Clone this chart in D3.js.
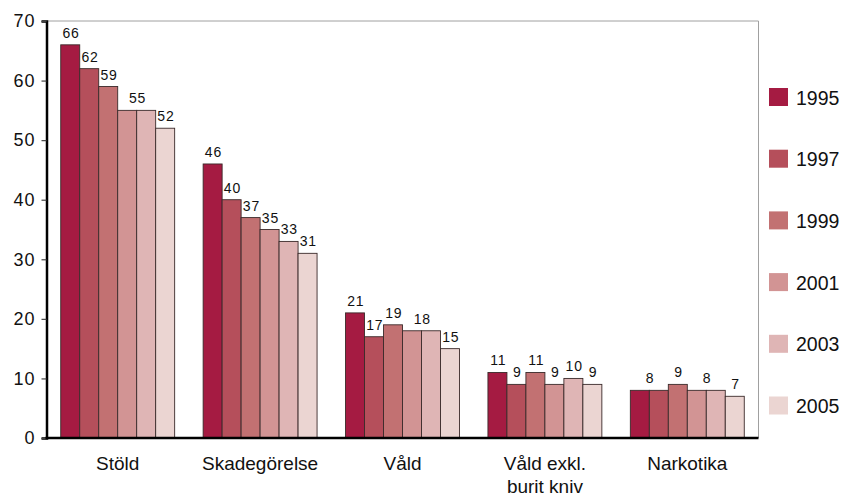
<!DOCTYPE html>
<html>
<head>
<meta charset="utf-8">
<script src="https://cdn.jsdelivr.net/npm/d3@7"></script>
<style>
  body { margin: 0; background: #fff; }
  svg { display: block; font-family: "Liberation Sans", Arial, Helvetica, sans-serif; }
</style>
</head>
<body>
<svg id="chart" width="845" height="498"></svg>
<script>
const categories = ["Stöld", "Skadegörelse", "Våld", "Våld exkl.\nburit kniv", "Narkotika"];
const years = ["1995", "1997", "1999", "2001", "2003", "2005"];
const v1995 = [66, 46, 21, 11, 8];
const v1997 = [62, 40, 17, 9, 8];
const v1999 = [59, 37, 19, 11, 9];
const v2001 = [55, 35, 18, 9, 8];
const v2003 = [55, 33, 18, 10, 8];
const v2005 = [52, 31, 15, 9, 7];
const yTicks = [0, 10, 20, 30, 40, 50, 60, 70];
const colors = ["#A51B42", "#B54F5B", "#C27172", "#D29494", "#DFB5B5", "#EBD5D2"];

const series = [v1995, v1997, v1999, v2001, v2003, v2005];

const svg = d3.select("#chart");
const mLeft = 46.5, mRight = 758.5, mTop = 21, mBottom = 438;

const x0 = d3.scaleBand().domain(categories).range([mLeft, mRight]).paddingInner(0.2).paddingOuter(0.1);
const x1 = d3.scaleBand().domain(years).range([0, x0.bandwidth()]);
const y = d3.scaleLinear().domain([0, 70]).range([mBottom, mTop]);
const color = d3.scaleOrdinal().domain(years).range(colors);

// top and right frame
svg.append("line").attr("x1", mLeft).attr("x2", mRight).attr("y1", mTop).attr("y2", mTop)
  .attr("stroke", "#a0a0a0").attr("stroke-width", 1);
svg.append("line").attr("x1", mRight).attr("x2", mRight).attr("y1", mTop).attr("y2", mBottom)
  .attr("stroke", "#a0a0a0").attr("stroke-width", 1);

// bars
categories.forEach((c, ci) => {
  const g = svg.append("g").attr("transform", `translate(${x0(c)},0)`);
  years.forEach((yr, yi) => {
    const v = series[yi][ci];
    g.append("rect")
      .attr("x", x1(yr))
      .attr("y", y(v))
      .attr("width", x1.bandwidth())
      .attr("height", y(0) - y(v))
      .attr("fill", color(yr))
      .attr("stroke", "#3a2a2a")
      .attr("stroke-width", 0.9);
  });
  // value labels: runs of equal neighbouring values share one label
  let i = 0;
  while (i < years.length) {
    let j = i;
    while (j + 1 < years.length && series[j + 1][ci] === series[i][ci]) j++;
    const v = series[i][ci];
    const cx = (x1(years[i]) + x1(years[j]) + x1.bandwidth()) / 2;
    g.append("text")
      .attr("x", cx + 0.8)
      .attr("y", y(v) - 7)
      .attr("text-anchor", "middle")
      .attr("font-size", 14)
      .attr("letter-spacing", 0.8)
      .attr("fill", "#111")
      .text(v);
    i = j + 1;
  }
});

// y axis
const yAxis = d3.axisLeft(y).tickValues(yTicks).tickSize(5).tickPadding(6).tickFormat(d3.format("d"));
const ya = svg.append("g").attr("transform", `translate(${mLeft},0)`).call(yAxis);
ya.select(".domain").attr("stroke", "#000").attr("stroke-width", 2.5);
ya.selectAll(".tick line").attr("stroke", "#444").attr("stroke-width", 1.2);
ya.selectAll(".tick text").attr("font-size", 18).attr("letter-spacing", 1).attr("fill", "#111")
  .attr("font-family", "'Liberation Sans', Arial, sans-serif");

// x axis baseline
svg.append("line").attr("x1", mLeft - 1).attr("x2", mRight).attr("y1", mBottom).attr("y2", mBottom)
  .attr("stroke", "#000").attr("stroke-width", 2.5);

// category labels
categories.forEach(c => {
  const t = svg.append("text")
    .attr("x", x0(c) + x0.bandwidth() / 2)
    .attr("y", 470)
    .attr("text-anchor", "middle")
    .attr("font-size", 19)
    .attr("fill", "#111");
  c.split("\n").forEach((line, li) => {
    t.append("tspan").attr("x", x0(c) + x0.bandwidth() / 2).attr("dy", li === 0 ? 0 : 23).text(line);
  });
});

// legend
const legend = svg.append("g").attr("transform", "translate(769,88)");
years.forEach((yr, i) => {
  const gy = i * 61.7;
  legend.append("rect").attr("x", 0).attr("y", gy).attr("width", 19).attr("height", 18).attr("fill", color(yr));
  legend.append("text").attr("x", 27).attr("y", gy + 16.5).attr("font-size", 19.5).attr("fill", "#111").text(yr);
});
</script>
</body>
</html>
